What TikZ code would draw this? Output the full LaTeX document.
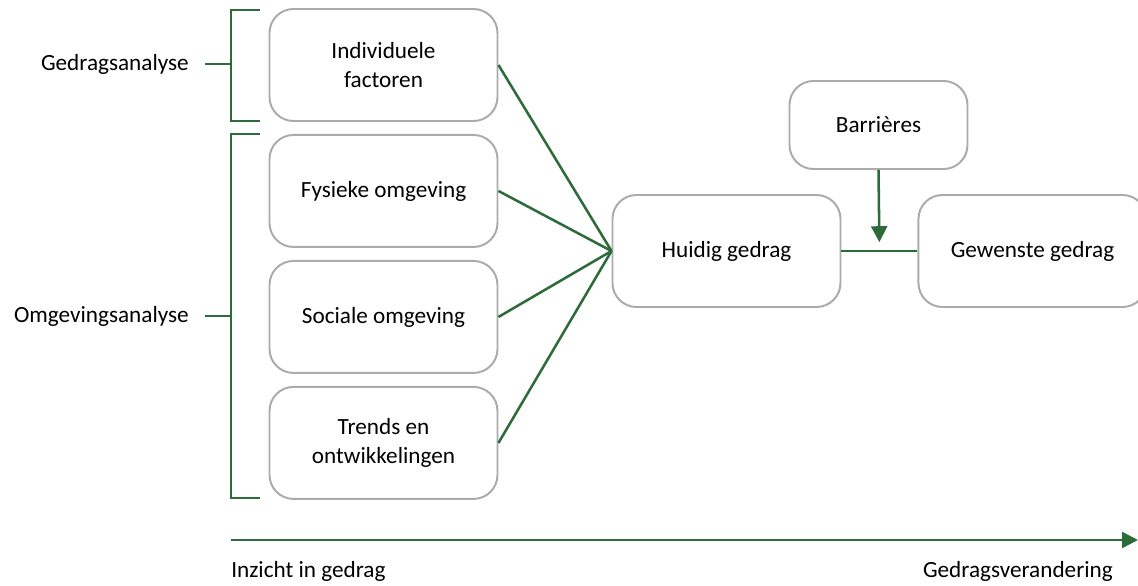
\documentclass[tikz,border=0pt]{standalone}
\usepackage{fontspec}
\setmainfont{Carlito}
\usepackage{xcolor}
\usetikzlibrary{arrows.meta,positioning,calc}
\definecolor{bargreen}{HTML}{2E6B3A}
\definecolor{boxgray}{HTML}{ABABAB}

\begin{document}
\begin{tikzpicture}[>={Triangle[length=0.4cm,width=0.4cm]}, node distance=0.3cm and 2.85cm,
  box/.style={rectangle, draw=boxgray, line width=1.4pt, rounded corners=0.6cm,
              minimum width=5.7cm, minimum height=2.8cm, font=\fontsize{16.5}{20}\selectfont,
              align=center},
  link/.style={bargreen, line width=1.8pt},
  lbl/.style={font=\fontsize{16.5}{20}\selectfont, inner sep=0pt}]

  \useasboundingbox (0,0) rectangle (28.45,-14.625);

  % Analyse boxes
  \node[box] (ind) at (9.5875,-1.625) {Individuele\\factoren};
  \node[box, below=of ind] (fys) {Fysieke omgeving};
  \node[box, below=of fys] (soc) {Sociale omgeving};
  \node[box, below=of soc] (trend) {Trends en\\ontwikkelingen};

  % Gedrag
  \node[box] (huidig) at (18.1625,-6.275) {Huidig gedrag};
  \node[box, right=1.9cm of huidig] (gewenst) {Gewenste gedrag};
  \node[box, minimum width=4.45cm, minimum height=2.2cm] (barr)
    at (21.9625,-3.125) {Barrières};

  % Links
  \foreach \src in {ind,fys,soc,trend}
    \draw[link] (\src.east) -- (huidig.west);
  \draw[link] (huidig.east) -- (gewenst.west);
  \coordinate (knik) at ($(huidig.east)!0.5!(gewenst.west)$);
  \draw[link, ->, shorten >=0.22cm] (barr.south) -- (knik);

  % Brackets
  \coordinate (gA) at (5.775,-0.25);
  \coordinate (gB) at (5.775,-3.025);
  \coordinate (oA) at (5.775,-3.35);
  \coordinate (oB) at (5.775,-12.45);
  \draw[link] ($(gA)+(0.725,0)$) -- (gA) -- (gB) -- ++(0.725,0);
  \draw[link] ($(oA)+(0.725,0)$) -- (oA) -- (oB) -- ++(0.725,0);
  \node[lbl, anchor=east] (gedrag) at (4.725,-1.6) {Gedragsanalyse};
  \node[lbl, anchor=east] (omgeving) at (4.725,-7.9) {Omgevingsanalyse};
  \draw[link] (gedrag.east) ++(0.4,0) coordinate (gC) -- (gC -| gA);
  \draw[link] (omgeving.east) ++(0.4,0) coordinate (oC) -- (oC -| oA);

  % Time axis
  \coordinate (tA) at (5.775,-13.5);
  \coordinate (tB) at (28.45,-13.5);
  \draw[link, ->] (tA) -- (tB);
  \node[lbl, anchor=west] (inzicht) at (5.775,-14.275) {Inzicht in gedrag};
  \node[lbl, anchor=east] (verander) at (27.825,-14.275) {Gedragsverandering};
\end{tikzpicture}
\end{document}
